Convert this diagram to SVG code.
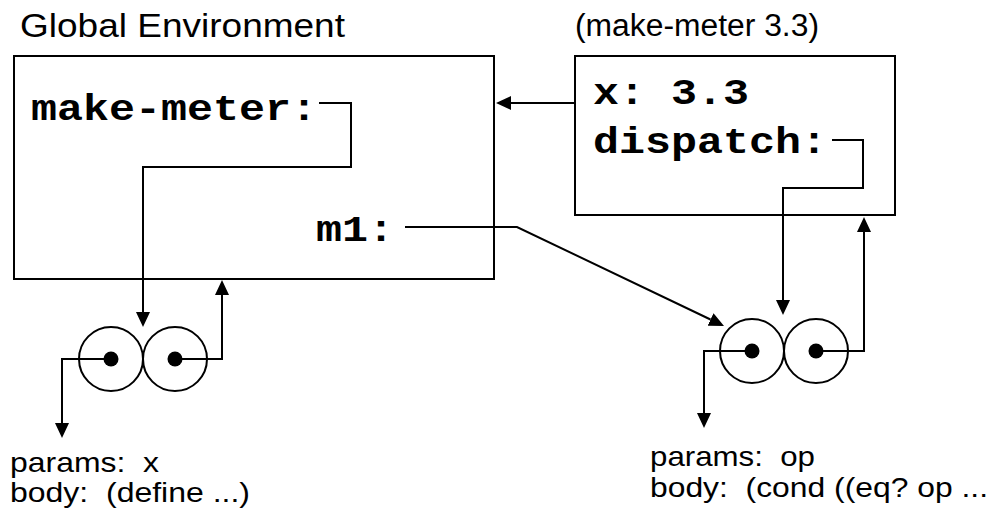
<svg xmlns="http://www.w3.org/2000/svg" width="990" height="518" viewBox="0 0 990 518">
  <defs>
    <style>
      .frame { fill: none; stroke: #000; stroke-width: 2; }
      .wire { fill: none; stroke: #000; stroke-width: 2; }
      .cell { fill: none; stroke: #000; stroke-width: 2; }
      .dot { fill: #000; }
      .sans { font-family: "Liberation Sans", Arial, sans-serif; fill: #000; white-space: pre; }
      .mono { font-family: "Liberation Mono", "Courier New", monospace; font-weight: bold; font-size: 36px; fill: #000; white-space: pre; }
    </style>
    <marker id="head" markerUnits="userSpaceOnUse" markerWidth="16" markerHeight="14" refX="0" refY="7" orient="auto">
      <path d="M0,0 L15,7 L0,14 Z" fill="#000"/>
    </marker>
  </defs>

  <!-- Environment frames -->
  <g id="global-env">
    <rect class="frame" x="14" y="56" width="480" height="223"/>
    <text class="sans" x="20" y="37" font-size="34" textLength="325" lengthAdjust="spacingAndGlyphs">Global Environment</text>
    <text class="mono" x="31" y="120" textLength="286" lengthAdjust="spacingAndGlyphs">make-meter:</text>
    <text class="mono" x="316" y="241" textLength="78" lengthAdjust="spacingAndGlyphs">m1:</text>
  </g>

  <g id="meter-env">
    <rect class="frame" x="575" y="56" width="320" height="159"/>
    <text class="sans" x="575" y="36" font-size="31" textLength="244" lengthAdjust="spacingAndGlyphs">(make-meter 3.3)</text>
    <text class="mono" x="593" y="104" textLength="156" lengthAdjust="spacingAndGlyphs">x: 3.3</text>
    <text class="mono" x="593" y="153" textLength="234" lengthAdjust="spacingAndGlyphs">dispatch:</text>
  </g>

  <!-- Procedure objects -->
  <g id="make-meter-proc">
    <circle class="cell" cx="111" cy="359" r="32"/>
    <circle class="cell" cx="175" cy="359" r="32"/>
    <circle class="dot" cx="111" cy="359" r="7.5"/>
    <circle class="dot" cx="175" cy="359" r="7.5"/>
    <text class="sans" x="10" y="472" font-size="28" textLength="149" lengthAdjust="spacingAndGlyphs">params:  x</text>
    <text class="sans" x="10" y="502" font-size="28" textLength="240" lengthAdjust="spacingAndGlyphs">body:  (define ...)</text>
  </g>

  <g id="dispatch-proc">
    <circle class="cell" cx="752" cy="351" r="32"/>
    <circle class="cell" cx="816" cy="351" r="32"/>
    <circle class="dot" cx="752" cy="351" r="7.5"/>
    <circle class="dot" cx="816" cy="351" r="7.5"/>
    <text class="sans" x="650" y="466" font-size="28" textLength="165" lengthAdjust="spacingAndGlyphs">params:  op</text>
    <text class="sans" x="650" y="497" font-size="28" textLength="338" lengthAdjust="spacingAndGlyphs">body:  (cond ((eq? op ...</text>
  </g>

  <!-- Pointers -->
  <g id="connectors">
    <path class="wire" d="M319,103 H351 V167 H143 V312" marker-end="url(#head)"/>
    <path class="wire" d="M175,359 H222 V295" marker-end="url(#head)"/>
    <path class="wire" d="M111,359 H62 V423" marker-end="url(#head)"/>
    <path class="wire" d="M405,227 H517 L710.5,319.5" marker-end="url(#head)"/>
    <path class="wire" d="M575,103 H511" marker-end="url(#head)"/>
    <path class="wire" d="M832,140 H863 V188 H783 V300" marker-end="url(#head)"/>
    <path class="wire" d="M816,351 H864 V232" marker-end="url(#head)"/>
    <path class="wire" d="M752,351 H704 V413" marker-end="url(#head)"/>
  </g>
</svg>
